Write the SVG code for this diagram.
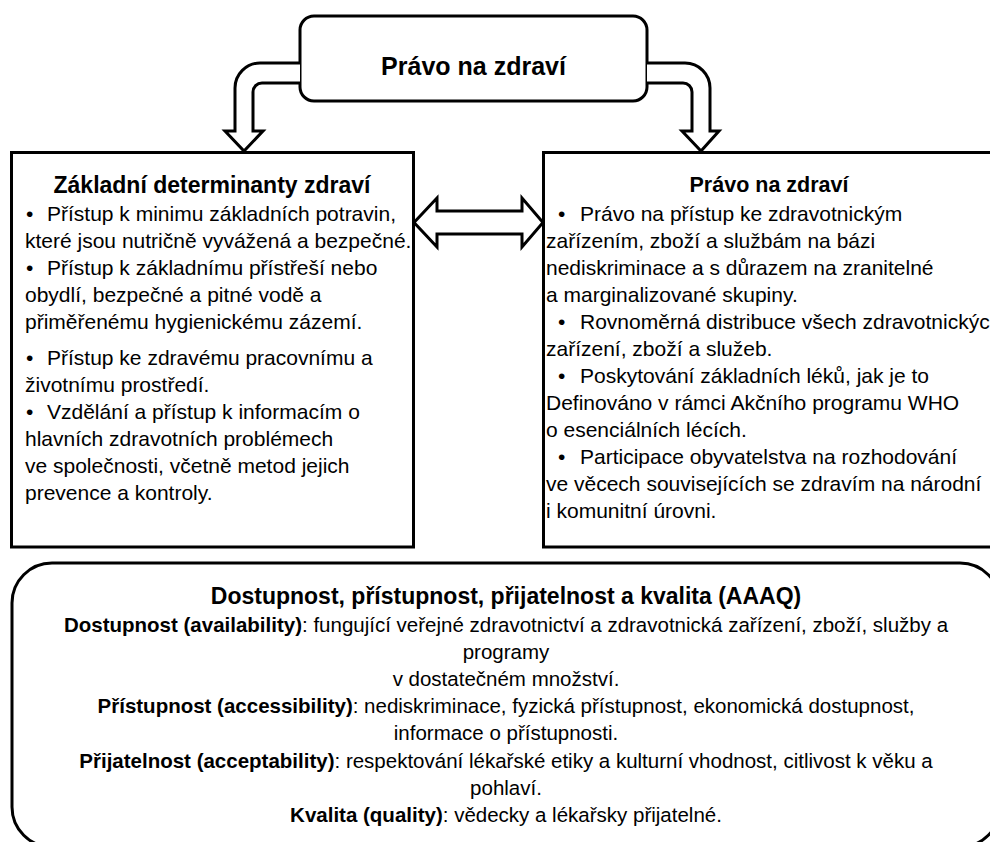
<svg xmlns="http://www.w3.org/2000/svg" width="990" height="842" viewBox="0 0 990 842">
  <style>
    text { font-family: "Liberation Sans", Arial, sans-serif; fill: #000; }
    .title { font-weight: bold; text-anchor: middle; }
    .body { font-size: 21px; }
    .aaaq { font-size: 20.5px; text-anchor: middle; }
    .b { font-weight: bold; }
    .box { fill: #fff; stroke: #000; stroke-width: 3; }
    .arrow { fill: #fff; stroke: #000; stroke-width: 3; stroke-linejoin: miter; }
  </style>

  <rect x="0" y="0" width="990" height="842" fill="#fff"/>

  <!-- top node -->
  <g id="node-top">
    <rect class="box" x="300" y="16" width="347" height="85" rx="14" ry="14"/>
    <text class="title" x="473.5" y="75" font-size="25">Právo na zdraví</text>
  </g>

  <!-- left node -->
  <g id="node-determinants">
    <rect class="box" x="11.5" y="152.5" width="402" height="394.5"/>
    <text class="title" x="212" y="193" font-size="23">Základní determinanty zdraví</text>
    <g class="body">
      <text y="221"><tspan x="26">•</tspan><tspan x="47">Přístup k minimu základních potravin,</tspan></text>
      <text x="25" y="248">které jsou nutričně vyvážená a bezpečné.</text>
      <text y="275"><tspan x="26">•</tspan><tspan x="47">Přístup k základnímu přístřeší nebo</tspan></text>
      <text x="25" y="302">obydlí, bezpečné a pitné vodě a</text>
      <text x="25" y="329">přiměřenému hygienickému zázemí.</text>
      <text y="365"><tspan x="26">•</tspan><tspan x="47">Přístup ke zdravému pracovnímu a</tspan></text>
      <text x="25" y="392">životnímu prostředí.</text>
      <text y="419"><tspan x="26">•</tspan><tspan x="47">Vzdělání a přístup k informacím o</tspan></text>
      <text x="25" y="446">hlavních zdravotních problémech</text>
      <text x="25" y="473">ve společnosti, včetně metod jejich</text>
      <text x="25" y="500">prevence a kontroly.</text>
    </g>
  </g>

  <!-- right node -->
  <g id="node-right">
    <rect class="box" x="543.5" y="152.5" width="460" height="394.5"/>
    <text class="title" x="769" y="192" font-size="21.5">Právo na zdraví</text>
    <g class="body">
      <text y="221"><tspan x="558">•</tspan><tspan x="580">Právo na přístup ke zdravotnickým</tspan></text>
      <text x="546" y="248">zařízením, zboží a službám na bázi</text>
      <text x="546" y="275">nediskriminace a s důrazem na zranitelné</text>
      <text x="546" y="302">a marginalizované skupiny.</text>
      <text y="329"><tspan x="558">•</tspan><tspan x="580">Rovnoměrná distribuce všech zdravotnických</tspan></text>
      <text x="546" y="356">zařízení, zboží a služeb.</text>
      <text y="383"><tspan x="558">•</tspan><tspan x="580">Poskytování základních léků, jak je to</tspan></text>
      <text x="546" y="410">Definováno v rámci Akčního programu WHO</text>
      <text x="546" y="437">o esenciálních lécích.</text>
      <text y="464"><tspan x="558">•</tspan><tspan x="580">Participace obyvatelstva na rozhodování</tspan></text>
      <text x="546" y="491">ve věcech souvisejících se zdravím na národní</text>
      <text x="546" y="518">i komunitní úrovni.</text>
    </g>
  </g>

  <!-- bottom node -->
  <g id="node-aaaq">
    <rect class="box" x="12" y="563" width="988" height="284" rx="40" ry="40"/>
    <text class="title" x="506" y="604" font-size="23">Dostupnost, přístupnost, přijatelnost a kvalita (AAAQ)</text>
    <text class="aaaq" x="506" y="632"><tspan class="b">Dostupnost (availability)</tspan>: fungující veřejné zdravotnictví a zdravotnická zařízení, zboží, služby a</text>
    <text class="aaaq" x="506" y="659">programy</text>
    <text class="aaaq" x="506" y="686">v dostatečném množství.</text>
    <text class="aaaq" x="506" y="713"><tspan class="b">Přístupnost (accessibility)</tspan>: nediskriminace, fyzická přístupnost, ekonomická dostupnost,</text>
    <text class="aaaq" x="506" y="740">informace o přístupnosti.</text>
    <text class="aaaq" x="506" y="768"><tspan class="b">Přijatelnost (acceptability)</tspan>: respektování lékařské etiky a kulturní vhodnost, citlivost k věku a</text>
    <text class="aaaq" x="506" y="795">pohlaví.</text>
    <text class="aaaq" x="506" y="822"><tspan class="b">Kvalita (quality)</tspan>: vědecky a lékařsky přijatelné.</text>
  </g>

  <!-- connectors: hollow block arrows -->
  <g id="connectors">
    <path id="arrow-top-left" class="arrow" d="M 300 63 H 260 A 25 25 0 0 0 235 88 V 131 H 225 L 244 151 L 263 131 H 253 V 92 A 9 9 0 0 1 262 83 H 300"/>
    <path id="arrow-top-right" class="arrow" d="M 647 63 H 685 A 25 25 0 0 1 710 88 V 131 H 719 L 701 151 L 682 131 H 692 V 92 A 9 9 0 0 0 683 83 H 647"/>
    <path id="arrow-both" class="arrow" d="M 414 222.5 L 437 198 V 211 H 522 V 198 L 543 222.5 L 522 247 V 234 H 437 V 247 Z"/>
  </g>
</svg>
